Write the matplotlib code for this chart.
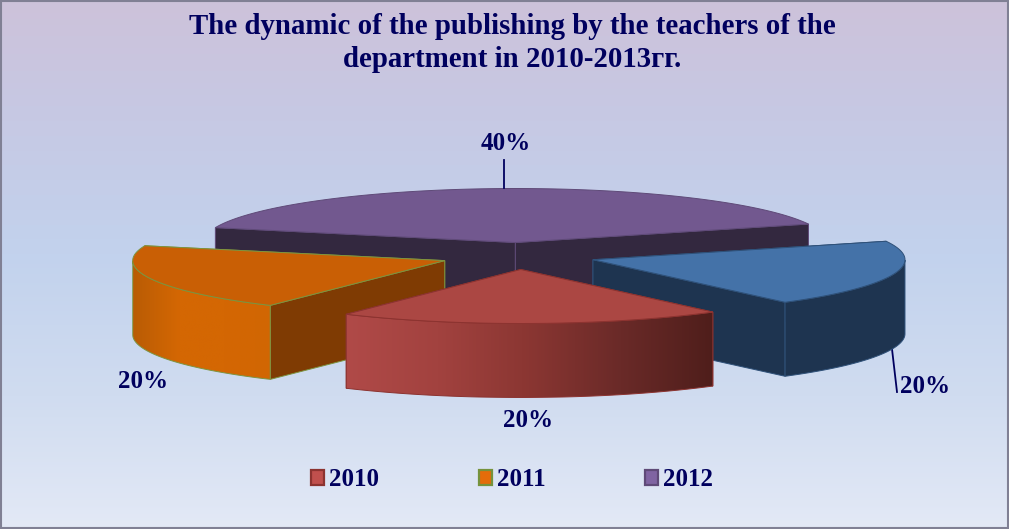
import numpy as np
import matplotlib
matplotlib.use('Agg')
import matplotlib.pyplot as plt
from matplotlib.colors import LinearSegmentedColormap
from matplotlib.patches import Patch, Polygon, Rectangle

plt.rcParams['font.family'] = ['Liberation Serif', 'DejaVu Serif']

title = 'The dynamic of the publishing by the teachers of the\ndepartment in 2010-2013гг.'
# slices clockwise on screen starting from the front one
slice_names = ['2010', '', '2012', '2011']
values = [20, 20, 40, 20]
legend_names = ['2010', '2011', '2012']

top_colors = ['#ab4743', '#4472a8', '#72588f', '#c95f05']
cut_colors = ['#6b2b28', '#1e3450', '#33283f', '#7f3b03']
edge_colors = ['#8c3330', '#2f5179', '#5f4a78', '#7d9440']
legend_fill = {'2010': '#c0504d', '2011': '#e46c0a', '2012': '#8064a2'}
legend_edge = {'2010': '#8c3330', '2011': '#76923c', '2012': '#5f4a78'}

navy = '#00005e'

# pie layout, in pixels
cx, cy = 518, 256
rx, ry = 312, 54
depth = 74
explode = 0.25
rotation = 2

fig = plt.figure(figsize=(10.09, 5.29), dpi=100)
ax = fig.add_axes([0, 0, 1, 1])


def ell(a, x0, y0):
    # a = degrees from straight down, going to the right
    a = np.radians(a)
    return np.column_stack([x0 + rx * np.sin(a), y0 + ry * np.cos(a)])


def gradient(cmap_colors, extent, clip, z):
    cm = LinearSegmentedColormap.from_list('g', cmap_colors)
    im = ax.imshow(np.linspace(0, 1, 256).reshape(1, -1), cmap=cm, extent=extent,
                   aspect='auto', zorder=z, interpolation='bilinear')
    im.set_clip_path(clip)


# background
bg = LinearSegmentedColormap.from_list('bg', [(0, '#cdc2da'), (0.2, '#c7c8e3'), (0.48, '#c2d2ed'),
                                              (0.75, '#d0dcf0'), (1, '#e3e9f6')])
ax.imshow(np.linspace(0, 1, 256).reshape(-1, 1), cmap=bg, extent=(0, 1009, 529, 0),
          aspect='auto', zorder=0)

# slice angles come from the values
total = sum(values)
angles = rotation - 36 + np.cumsum([0] + values) / total * 360
slices = []
for i, v in enumerate(values):
    a0, a1 = angles[i], angles[i + 1]
    mid = np.radians((a0 + a1) / 2)
    x0 = cx + explode * rx * np.sin(mid)
    y0 = cy + explode * ry * np.cos(mid)
    slices.append((i, a0, a1, x0, y0))

# painter order: back to front
z = 2
for i, a0, a1, x0, y0 in [slices[2], slices[1], slices[3], slices[0]]:
    arc = ell(np.linspace(a0, a1, 120), x0, y0)
    down = np.array([0, depth])
    apex = np.array([x0, y0])

    # flat cut walls, the one further back first
    for p in sorted((arc[0], arc[-1]), key=lambda q: q[1]):
        ax.add_patch(Polygon([apex, p, p + down, apex + down], closed=True, fc=cut_colors[i],
                             ec=edge_colors[i], lw=0.7, zorder=z))
        z += 1

    # rounded outer wall, only the part facing us
    aa = np.linspace(a0, a1, 160)
    aa = aa[np.cos(np.radians(aa)) >= 0]
    if len(aa) > 1:
        front = ell(aa, x0, y0)
        wall = np.vstack([front, (front + down)[::-1]])
        if i == 0:
            poly = Polygon(wall, closed=True, fc='none', ec=edge_colors[i], lw=0.7, zorder=z + 1)
            ax.add_patch(poly)
            gradient(['#b04a48', '#a2423f', '#8a3632', '#6a2a28', '#4f1e1b'],
                     (wall[:, 0].min(), wall[:, 0].max(), wall[:, 1].max(), wall[:, 1].min()), poly, z)
        elif i == 3:
            poly = Polygon(wall, closed=True, fc='none', ec=edge_colors[i], lw=0.7, zorder=z + 1)
            ax.add_patch(poly)
            gradient(['#b95c05', '#d46703', '#d46703', '#d16603'],
                     (wall[:, 0].min(), wall[:, 0].max(), wall[:, 1].max(), wall[:, 1].min()), poly, z)
        else:
            ax.add_patch(Polygon(wall, closed=True, fc=cut_colors[i], ec=edge_colors[i], lw=0.7, zorder=z))
        z += 2

    # top face
    ax.add_patch(Polygon(np.vstack([apex, arc]), closed=True, fc=top_colors[i],
                         ec=edge_colors[i], lw=0.7, zorder=z))
    z += 1

# data labels and leader lines
labels = [f'{v / total * 100:.0f}%' for v in values]
label_pos = [(528.5, 420.5), (925, 386.5), (505.5, 143.5), (143.5, 381.5)]
for s, p in zip(labels, label_pos):
    ax.text(p[0], p[1], s, fontsize=18, fontweight='bold', color=navy, ha='center', va='center', zorder=z)
ax.plot([504, 504], [160, 188], color=navy, lw=1.3, zorder=z)
ax.plot([892, 897], [349, 392], color=navy, lw=1.3, zorder=1)

ax.text(512.5, 43, title, fontsize=20.8, fontweight='bold', color=navy, ha='center', va='center',
        linespacing=1.3, zorder=z)

handles = [Patch(facecolor=legend_fill[n], edgecolor=legend_edge[n], linewidth=1.6, label=n) for n in legend_names]
leg = ax.legend(handles=handles, ncol=3, frameon=False, fontsize=18, loc='center',
                bbox_to_anchor=(512, 480), bbox_transform=ax.transData,
                handlelength=0.52, handleheight=0.52, handletextpad=0.2, columnspacing=3.98,
                labelcolor=navy, prop={'weight': 'bold', 'size': 18})
leg.set_zorder(z)

# figure border
ax.add_patch(Rectangle((1, 1), 1007, 527, fc='none', ec='#808094', lw=1.5, zorder=z))

ax.set_xlim(0, 1009)
ax.set_ylim(529, 0)
ax.axis('off')

plt.savefig('out.png', dpi=100)
